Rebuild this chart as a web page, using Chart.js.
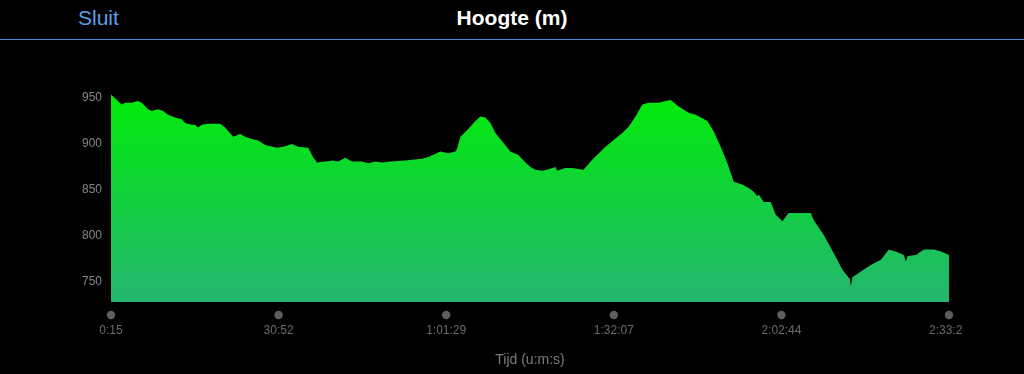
<!DOCTYPE html>
<html>
<head>
<meta charset="utf-8">
<script src="https://cdn.jsdelivr.net/npm/chart.js@4/dist/chart.umd.min.js"></script>
<style>
  html, body { margin: 0; padding: 0; background: #000; width: 1024px; height: 374px; overflow: hidden; font-family: "Liberation Sans", Arial, sans-serif; }
  #header { position: absolute; left: 0; top: 0; width: 1024px; height: 39px; border-bottom: 1px solid #4f88d8; }
  #sluit { position: absolute; left: 78px; top: 6px; font-size: 21px; color: #5c9fe6; }
  #title { position: absolute; left: 0; width: 1024px; top: 6px; text-align: center; font-size: 21px; font-weight: 600; color: #fff; }
  #wrap { position: absolute; left: 0; top: 40px; width: 962px; height: 334px; }
</style>
</head>
<body>
<div id="header"><span id="sluit">Sluit</span><div id="title">Hoogte (m)</div></div>
<div id="wrap"><canvas id="c" width="962" height="334"></canvas></div>
<script>
// elapsed time (seconds) of each sample
const times = [15,132,169,242,311,352,421,462,531,586,641,717,791,827,901,937,970,1010,1080,1211,1266,1354,1431,1486,1540,1628,1705,1833,1903,1998,2067,2177,2218,2232,2254,2272,2363,2451,2506,2583,2656,2766,2835,2912,2986,3077,3241,3425,3494,3625,3713,3790,3809,3845,3918,4010,4064,4119,4174,4229,4302,4393,4481,4558,4613,4668,4741,4833,4887,4906,4997,5071,5195,5290,5436,5546,5619,5689,5765,5839,5908,6018,6095,6150,6237,6347,6424,6497,6552,6621,6698,6772,6841,6936,7005,7060,7101,7115,7170,7247,7302,7375,7444,7554,7686,7719,7828,7938,8033,8114,8125,8143,8235,8308,8377,8454,8542,8637,8706,8728,8747,8838,8926,9036,9113,9201];
// elevation (m)
const elevation = [954,943,945,945,947,945,938,936,938,936,932,929,927,923,921,921,918,921,922,922,918,908,911,908,906,904,899,896,897,900,897,896,888,885,883,880,881,882,881,885,881,881,879,881,880,881,882,884,886,892,890,892,895,908,915,925,930,929,923,912,903,892,888,880,875,872,871,873,875,871,874,874,872,883,897,906,912,919,930,943,945,945,947,948,941,934,932,928,925,914,897,879,859,856,852,848,843,845,837,837,823,816,825,825,825,817,801,781,763,753,745,755,761,766,770,774,785,782,779,772,778,779,785,785,783,779];
// x-axis ticks (seconds) and their labels
const xTickValues = [15,1852,3689,5527,7364,9201];
const xTickLabels = ['0:15','30:52','1:01:29','1:32:07','2:02:44','2:33:20'];
// y-axis ticks
const yTickValues = [750,800,850,900,950];

const tickDots = {
  id: 'tickDots',
  afterDraw(chart) {
    const ctx = chart.ctx, xs = chart.scales.x, area = chart.chartArea;
    ctx.save();
    ctx.fillStyle = '#5e5e5e';
    xs.ticks.forEach(t => {
      const px = xs.getPixelForValue(t.value);
      ctx.beginPath();
      ctx.arc(px, area.bottom + 13, 4.2, 0, Math.PI * 2);
      ctx.fill();
    });
    ctx.restore();
  }
};

new Chart(document.getElementById('c'), {
  type: 'line',
  data: {
    datasets: [{
      data: times.map((t, i) => ({ x: t, y: elevation[i] })),
      borderWidth: 0,
      pointRadius: 0,
      tension: 0,
      fill: 'start',
      backgroundColor(ctx) {
        const a = ctx.chart.chartArea;
        if (!a) return '#12cf3c';
        const g = ctx.chart.ctx.createLinearGradient(0, a.top, 0, a.bottom);
        g.addColorStop(0, '#00ec06');
        g.addColorStop(1, '#24b671');
        return g;
      }
    }]
  },
  options: {
    responsive: false,
    animation: false,
    events: [],
    layout: { padding: { top: 49, left: 0, right: 13, bottom: 0 } },
    plugins: { legend: { display: false }, tooltip: { enabled: false } },
    scales: {
      x: {
        type: 'linear',
        min: 15, max: 9201,
        grid: { display: false, drawTicks: false },
        border: { display: false },
        afterBuildTicks(s) { s.ticks = xTickValues.map(v => ({ value: v })); },
        afterFit(s) { s.height = 72; s.paddingLeft = 0; s.paddingRight = 0; },
        ticks: {
          autoSkip: false, maxRotation: 0, padding: 21,
          color: '#6a6a6a',
          font: { family: '"Liberation Sans", Arial, sans-serif', size: 12 },
          callback(v) { const i = xTickValues.indexOf(v); return i >= 0 ? xTickLabels[i] : ''; }
        },
        title: {
          display: true, text: 'Tijd (u:m:s)', color: '#7c7c7c',
          font: { family: '"Liberation Sans", Arial, sans-serif', size: 14 },
          padding: { top: 0, bottom: 5 }
        }
      },
      y: {
        min: 727.9, max: 960,
        grid: { display: false, drawTicks: false },
        border: { display: false },
        afterBuildTicks(s) { s.ticks = yTickValues.map(v => ({ value: v })); },
        afterFit(s) { s.width = 111; s.paddingTop = 0; s.paddingBottom = 0; },
        ticks: {
          padding: 9,
          color: '#858585',
          font: { family: '"Liberation Sans", Arial, sans-serif', size: 12 }
        }
      }
    }
  },
  plugins: [tickDots]
});
</script>
</body>
</html>
